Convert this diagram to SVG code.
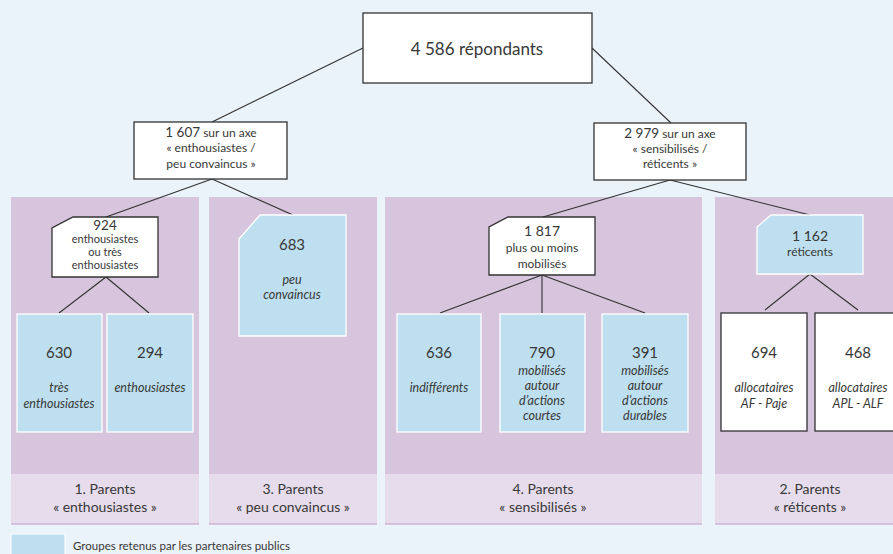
<svg xmlns="http://www.w3.org/2000/svg" width="893" height="554" viewBox="0 0 893 554">
<style>
text{font-family:Lato,"Open Sans","Liberation Sans",sans-serif;fill:#383838;text-anchor:middle}
.panel{fill:#d7c4dd}
.band{fill:#e6dcec}
.bline{stroke:#cdb6d6;stroke-width:1.5}
.wbox{fill:#fff;stroke:#333;stroke-width:1.3}
.bbox{fill:#bddfef;stroke:#fff;stroke-width:1.3}
.num{font-size:15px}
.lab{font-size:12.5px;font-style:italic}
.sm{font-size:12px}
.xs{font-size:11px}
.cap{font-size:14px}
.conn line{stroke:#333;stroke-width:1.1}
</style>
<rect width="893" height="554" fill="#eaf2fa"/>
<g id="panels">
<rect class="panel" x="11" y="197" width="188" height="277"/>
<rect class="band" x="11" y="474" width="188" height="50"/>
<line class="bline" x1="11" y1="524" x2="199" y2="524"/>
<rect class="panel" x="209" y="197" width="168" height="277"/>
<rect class="band" x="209" y="474" width="168" height="50"/>
<line class="bline" x1="209" y1="524" x2="377" y2="524"/>
<rect class="panel" x="385" y="197" width="317" height="277"/>
<rect class="band" x="385" y="474" width="317" height="50"/>
<line class="bline" x1="385" y1="524" x2="702" y2="524"/>
<rect class="panel" x="715" y="197" width="178" height="277"/>
<rect class="band" x="715" y="474" width="178" height="50"/>
<line class="bline" x1="715" y1="524" x2="893" y2="524"/>
<text class="cap" x="105" y="494">1. Parents</text>
<text class="cap" x="105" y="512">« enthousiastes »</text>
<text class="cap" x="293" y="494">3. Parents</text>
<text class="cap" x="293" y="512">« peu convaincus »</text>
<text class="cap" x="543" y="494">4. Parents</text>
<text class="cap" x="543" y="512">« sensibilisés »</text>
<text class="cap" x="810" y="494">2. Parents</text>
<text class="cap" x="810" y="512">« réticents »</text>
</g>
<g class="conn" id="connectors">
<line x1="363" y1="48" x2="212" y2="122"/>
<line x1="592" y1="48" x2="671" y2="123"/>
<line x1="212" y1="179" x2="106" y2="217"/>
<line x1="212" y1="179" x2="293" y2="215"/>
<line x1="670" y1="180" x2="543" y2="217"/>
<line x1="670" y1="180" x2="810" y2="215"/>
<line x1="106" y1="277" x2="59" y2="313"/>
<line x1="106" y1="277" x2="149" y2="313"/>
<line x1="542" y1="275" x2="440" y2="313"/>
<line x1="542" y1="275" x2="542" y2="313"/>
<line x1="542" y1="275" x2="645" y2="313"/>
<line x1="810" y1="274" x2="765" y2="310"/>
<line x1="810" y1="274" x2="858" y2="310"/>
</g>
<g id="root">
<rect class="wbox" x="363" y="13" width="229" height="70"/>
<text x="477" y="55" style="font-size:17px">4 586 répondants</text>
</g>
<g id="n1607">
<rect class="wbox" x="134" y="122" width="153" height="57"/>
<text x="211" y="137" class="sm"><tspan style="font-size:13.5px">1 607</tspan> sur un axe</text>
<text x="211" y="152" class="sm">« enthousiastes /</text>
<text x="211" y="168" class="sm">peu convaincus »</text>
</g>
<g id="n2979">
<rect class="wbox" x="594" y="123" width="152" height="57"/>
<text x="670" y="138" class="sm"><tspan style="font-size:13.5px">2 979</tspan> sur un axe</text>
<text x="670" y="153" class="sm">« sensibilisés /</text>
<text x="670" y="168" class="sm">réticents »</text>
</g>
<g id="n924">
<polygon class="wbox" points="73,217 158,217 158,277 52,277 52,228"/>
<text x="105" y="230" style="font-size:13.5px">924</text>
<text x="105" y="243" class="xs">enthousiastes</text>
<text x="105" y="256" class="xs">ou très</text>
<text x="105" y="269" class="xs">enthousiastes</text>
</g>
<g id="n683">
<polygon class="bbox" points="260,215 346,215 346,336 239,336 239,239"/>
<text x="292" y="250" class="num">683</text>
<text x="292" y="284" class="lab">peu</text>
<text x="292" y="299" class="lab">convaincus</text>
</g>
<g id="n1817">
<polygon class="wbox" points="508,217 595,217 595,275 489,275 489,227"/>
<text x="542" y="236" style="font-size:14px">1 817</text>
<text x="542" y="252" class="sm">plus ou moins</text>
<text x="542" y="268" class="sm">mobilisés</text>
</g>
<g id="n1162">
<polygon class="bbox" points="771,215 863,215 863,274 757,274 757,227"/>
<text x="810" y="241" style="font-size:14px">1 162</text>
<text x="810" y="256" class="sm">réticents</text>
</g>
<g id="n630">
<rect class="bbox" x="17" y="314" width="85" height="118"/>
<text x="59" y="358" class="num">630</text>
<text x="59" y="392" class="lab">très</text>
<text x="59" y="408" class="lab">enthousiastes</text>
</g>
<g id="n294">
<rect class="bbox" x="107" y="314" width="86" height="118"/>
<text x="150" y="358" class="num">294</text>
<text x="150" y="392" class="lab">enthousiastes</text>
</g>
<g id="n636">
<rect class="bbox" x="397" y="314" width="84" height="118"/>
<text x="439" y="358" class="num">636</text>
<text x="439" y="392" class="lab">indifférents</text>
</g>
<g id="n790">
<rect class="bbox" x="500" y="314" width="85" height="118"/>
<text x="542" y="358" class="num">790</text>
<text x="542" y="375" class="lab">mobilisés</text>
<text x="542" y="390" class="lab">autour</text>
<text x="542" y="405" class="lab">d’actions</text>
<text x="542" y="420" class="lab">courtes</text>
</g>
<g id="n391">
<rect class="bbox" x="602" y="314" width="86" height="118"/>
<text x="645" y="358" class="num">391</text>
<text x="645" y="375" class="lab">mobilisés</text>
<text x="645" y="390" class="lab">autour</text>
<text x="645" y="405" class="lab">d’actions</text>
<text x="645" y="420" class="lab">durables</text>
</g>
<g id="n694">
<rect class="wbox" x="721" y="313" width="86" height="118"/>
<text x="764" y="358" class="num">694</text>
<text x="764" y="392" class="lab">allocataires</text>
<text x="764" y="408" class="lab">AF - Paje</text>
</g>
<g id="n468">
<rect class="wbox" x="815" y="313" width="86" height="118"/>
<text x="858" y="358" class="num">468</text>
<text x="858" y="392" class="lab">allocataires</text>
<text x="858" y="408" class="lab">APL - ALF</text>
</g>
<g id="legend">
<rect x="11" y="534" width="54" height="22" fill="#bddfef" stroke="#fff" stroke-width="1"/>
<text x="73" y="550" style="font-size:11.5px;text-anchor:start">Groupes retenus par les partenaires publics</text>
</g>
</svg>
